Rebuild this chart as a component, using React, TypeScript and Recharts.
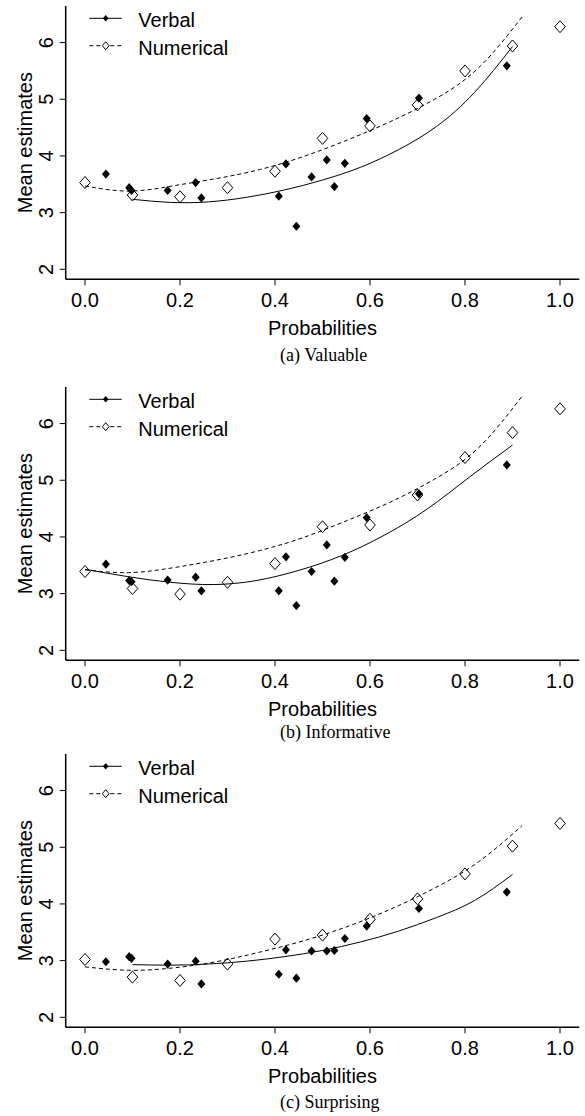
import React from 'react';
import { ComposedChart, Line, Scatter, XAxis, YAxis, Legend } from 'recharts';

// mean probability of each verbal term (shared by the three panels)
const verbalProb = [0.044, 0.093, 0.098, 0.174, 0.233, 0.245, 0.408, 0.423, 0.445, 0.477, 0.509, 0.525, 0.547, 0.593, 0.703, 0.888];
const numericProb = [0, 0.1, 0.2, 0.3, 0.4, 0.5, 0.6, 0.7, 0.8, 0.9, 1.0];

// x positions where the fitted curves were read (evenly spaced so the spline stays smooth)
const fitFrom0 = [0, 0.092, 0.184, 0.276, 0.368, 0.46, 0.552, 0.644, 0.736, 0.828, 0.92];
const fitFrom0To09 = [0, 0.09, 0.18, 0.27, 0.36, 0.45, 0.54, 0.63, 0.72, 0.81, 0.9];
const fitFrom01 = [0.1, 0.18, 0.26, 0.34, 0.42, 0.5, 0.58, 0.66, 0.74, 0.82, 0.9];

// (a) Valuable
const valuableVerbal = [3.68, 3.44, 3.39, 3.39, 3.53, 3.26, 3.29, 3.86, 2.76, 3.63, 3.93, 3.46, 3.87, 4.66, 5.02, 5.59];
const valuableNumeric = [3.53, 3.31, 3.28, 3.44, 3.73, 4.31, 4.53, 4.9, 5.5, 5.94, 6.28];
const valuableVerbalFit = [3.235, 3.18, 3.19, 3.27, 3.4, 3.575, 3.8, 4.11, 4.52, 5.12, 5.93];
const valuableNumericFit = [3.47, 3.38, 3.47, 3.6, 3.76, 3.99, 4.28, 4.61, 5.0, 5.55, 6.45];

// (b) Informative
const informativeVerbal = [3.52, 3.23, 3.21, 3.24, 3.29, 3.05, 3.05, 3.65, 2.79, 3.39, 3.86, 3.22, 3.64, 4.34, 4.76, 5.27];
const informativeNumeric = [3.39, 3.09, 2.99, 3.2, 3.53, 4.18, 4.21, 4.74, 5.4, 5.84, 6.26];
const informativeVerbalFit = [3.43, 3.3, 3.2, 3.16, 3.23, 3.41, 3.67, 4.03, 4.49, 5.06, 5.62];
const informativeNumericFit = [3.42, 3.37, 3.455, 3.59, 3.76, 3.99, 4.29, 4.62, 5.02, 5.57, 6.48];

// (c) Surprising
const surprisingVerbal = [2.98, 3.07, 3.04, 2.94, 2.99, 2.59, 2.76, 3.19, 2.69, 3.17, 3.17, 3.18, 3.39, 3.61, 3.92, 4.21];
const surprisingNumeric = [3.02, 2.71, 2.65, 2.94, 3.38, 3.45, 3.73, 4.09, 4.53, 5.02, 5.42];
const surprisingVerbalFit = [2.93, 2.92, 2.94, 2.99, 3.07, 3.18, 3.33, 3.52, 3.76, 4.06, 4.52];
const surprisingNumericFit = [2.89, 2.83, 2.87, 2.98, 3.15, 3.35, 3.6, 3.91, 4.28, 4.74, 5.38];

const xTicks = [0, 0.2, 0.4, 0.6, 0.8, 1.0];
const yTicks = [2, 3, 4, 5, 6];

const SANS = "'Liberation Sans', Arial, Helvetica, sans-serif";
const SERIF = "'Liberation Serif', 'Times New Roman', serif";

const W = 585;
const H = 340;
const X_DOMAIN: [number, number] = [-0.0406, 1.0406];
const Y_DOMAIN: [number, number] = [1.824, 6.645];

type Pt = { x: number; y: number };
const zip = (xs: number[], ys: number[]): Pt[] => xs.map((x, i) => ({ x, y: ys[i] }));

const diamondPath = (cx: number, cy: number, hw: number, hh: number) =>
  `M${cx},${cy - hh}L${cx + hw},${cy}L${cx},${cy + hh}L${cx - hw},${cy}Z`;

const FilledDiamond = (props: any) => {
  const { cx, cy } = props;
  if (cx == null || cy == null) return null;
  return <path d={diamondPath(cx, cy, 4, 4.6)} fill="#000" stroke="none" />;
};

const OpenDiamond = (props: any) => {
  const { cx, cy } = props;
  if (cx == null || cy == null) return null;
  return <path d={diamondPath(cx, cy, 5.3, 6)} fill="none" stroke="#000" strokeWidth={1} />;
};

const XTick = (props: any) => {
  const { x, y, payload } = props;
  return (
    <text x={x} y={y} dy={20} textAnchor="middle" fontFamily={SANS} fontSize={20} fill="#000">
      {Number(payload.value).toFixed(1)}
    </text>
  );
};

const YTick = (props: any) => {
  const { y, payload } = props;
  return (
    <text
      x={46}
      y={y}
      dy="0.36em"
      transform={`rotate(-90, 46, ${y})`}
      textAnchor="middle"
      fontFamily={SANS}
      fontSize={20}
      fill="#000"
    >
      {payload.value}
    </text>
  );
};

const XTitle = (props: any) => {
  const vb = props.viewBox || { x: 65.7, y: 279.3, width: 513.6 };
  return (
    <text x={vb.x + vb.width / 2} y={vb.y + 56} textAnchor="middle" fontFamily={SANS} fontSize={20} fill="#000">
      Probabilities
    </text>
  );
};

const YTitle = (props: any) => {
  const vb = props.viewBox || { y: 6, height: 273.3 };
  const cy = vb.y + vb.height / 2;
  return (
    <text
      x={25}
      y={cy}
      dy="0.36em"
      transform={`rotate(-90, 25, ${cy})`}
      textAnchor="middle"
      fontFamily={SANS}
      fontSize={20}
      fill="#000"
    >
      Mean estimates
    </text>
  );
};

const LegendBox = () => (
  <svg width={170} height={62} style={{ display: 'block' }}>
    <line x1={9.3} y1={18.3} x2={41.7} y2={18.3} stroke="#000" strokeWidth={1} />
    <path d={diamondPath(25.7, 18.3, 2.8, 3.2)} fill="#000" />
    <text x={58.3} y={27.3} fontFamily={SANS} fontSize={20} fill="#000">Verbal</text>
    <line x1={9.3} y1={45.7} x2={41.7} y2={45.7} stroke="#000" strokeWidth={1} strokeDasharray="4 3" />
    <path d={diamondPath(25.7, 45.7, 3.4, 4)} fill="#fff" stroke="#000" strokeWidth={1} />
    <text x={58.3} y={54.7} fontFamily={SANS} fontSize={20} fill="#000">Numerical</text>
  </svg>
);

interface PanelProps {
  top: number;
  verbal: number[];
  numeric: number[];
  verbalFitX: number[];
  verbalFit: number[];
  numericFitX: number[];
  numericFit: number[];
}

function Panel({ top, verbal, numeric, verbalFitX, verbalFit, numericFitX, numericFit }: PanelProps) {
  return (
    <div style={{ position: 'absolute', left: 0, top, width: W, height: H }}>
      <ComposedChart width={W} height={H} margin={{ top: 6, right: 5.7, left: 0, bottom: 5.7 }}>
        <XAxis
          dataKey="x"
          type="number"
          domain={X_DOMAIN}
          ticks={xTicks}
          interval={0}
          allowDataOverflow
          height={55}
          stroke="#000"
          axisLine={{ stroke: '#000', strokeWidth: 1.5 }}
          tickLine={{ stroke: '#000', strokeWidth: 1 }}
          tickSize={6}
          tick={XTick}
          label={{ content: XTitle }}
        />
        <XAxis
          xAxisId="top"
          orientation="top"
          type="number"
          domain={X_DOMAIN}
          allowDataOverflow
          height={0}
          stroke="#000"
          axisLine={{ stroke: '#000', strokeWidth: 1.5 }}
          tick={false}
          tickLine={false}
        />
        <YAxis
          dataKey="y"
          type="number"
          domain={Y_DOMAIN}
          ticks={yTicks}
          interval={0}
          allowDataOverflow
          width={65.7}
          stroke="#000"
          axisLine={{ stroke: '#000', strokeWidth: 1.5 }}
          tickLine={{ stroke: '#000', strokeWidth: 1 }}
          tickSize={6}
          tick={YTick}
          label={{ content: YTitle }}
        />
        <YAxis
          yAxisId="right"
          orientation="right"
          type="number"
          domain={Y_DOMAIN}
          allowDataOverflow
          width={0}
          stroke="#000"
          axisLine={{ stroke: '#000', strokeWidth: 1.5 }}
          tick={false}
          tickLine={false}
        />
        <Legend
          layout="horizontal"
          verticalAlign="middle"
          align="center"
          content={LegendBox}
          wrapperStyle={{ left: 80, top: 0, width: 170, height: 62 }}
        />
        <Line
          name="Numerical fit"
          data={zip(numericFitX, numericFit)}
          dataKey="y"
          type="natural"
          stroke="#000"
          strokeWidth={1}
          strokeDasharray="4 3"
          dot={false}
          activeDot={false}
          isAnimationActive={false}
        />
        <Line
          name="Verbal fit"
          data={zip(verbalFitX, verbalFit)}
          dataKey="y"
          type="natural"
          stroke="#000"
          strokeWidth={1}
          dot={false}
          activeDot={false}
          isAnimationActive={false}
        />
        <Scatter
          name="Numerical"
          data={zip(numericProb, numeric)}
          shape={OpenDiamond}
          isAnimationActive={false}
        />
        <Scatter
          name="Verbal"
          data={zip(verbalProb, verbal)}
          shape={FilledDiamond}
          isAnimationActive={false}
        />
      </ComposedChart>
    </div>
  );
}

const captionStyle = (top: number): React.CSSProperties => ({
  position: 'absolute',
  left: 280,
  top,
  fontFamily: SERIF,
  fontSize: 18,
  lineHeight: '18px',
  color: '#000',
  whiteSpace: 'nowrap',
});

export default function App() {
  return (
    <div style={{ position: 'absolute', left: 0, top: 0, width: 585, height: 1116, overflow: 'hidden', background: '#fff' }}>
      <Panel
        top={0}
        verbal={valuableVerbal}
        numeric={valuableNumeric}
        verbalFitX={fitFrom01}
        verbalFit={valuableVerbalFit}
        numericFitX={fitFrom0}
        numericFit={valuableNumericFit}
      />
      <div style={captionStyle(346)}>(a) Valuable</div>
      <Panel
        top={381}
        verbal={informativeVerbal}
        numeric={informativeNumeric}
        verbalFitX={fitFrom0To09}
        verbalFit={informativeVerbalFit}
        numericFitX={fitFrom0}
        numericFit={informativeNumericFit}
      />
      <div style={captionStyle(722.5)}>(b) Informative</div>
      <Panel
        top={748}
        verbal={surprisingVerbal}
        numeric={surprisingNumeric}
        verbalFitX={fitFrom01}
        verbalFit={surprisingVerbalFit}
        numericFitX={fitFrom0}
        numericFit={surprisingNumericFit}
      />
      <div style={captionStyle(1093)}>(c) Surprising</div>
    </div>
  );
}
